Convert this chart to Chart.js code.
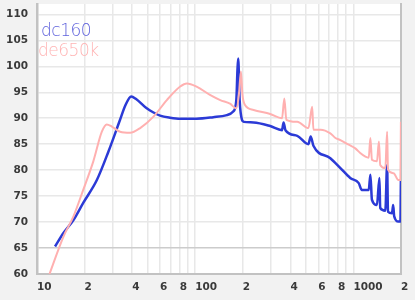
<!DOCTYPE html>
<html>
<head>
<meta charset="utf-8">
<script src="https://cdn.jsdelivr.net/npm/chart.js@4.4.1/dist/chart.umd.min.js"></script>
<style>
  body { margin: 0; background: #f2f2f2; }
  #wrap { position: relative; width: 415px; height: 300px; }
  .leyenda { position: absolute; font-family: "DejaVu Sans", sans-serif; font-weight: 200; font-size: 17px; letter-spacing: -0.5px; }
  #l1 { left: 41px; top: 20px; color: #5f62dc; }
  #l2 { left: 38px; top: 40px; color: #ffb4b4; }
</style>
</head>
<body>
<div id="wrap">
  <canvas id="grafica" width="415" height="300"></canvas>
  <div class="leyenda" id="l1">dc160</div>
  <div class="leyenda" id="l2">de650k</div>
</div>
<script>
const dcFreq = [13.0, 14.7, 17.0, 19.6, 23.9, 28.3, 33.5, 36.1, 39.4, 42.3, 49.4, 54.5, 60, 69.4, 80.4, 102, 130, 158.6, 174, 182, 185, 187, 191, 197.6, 203, 234, 298, 354, 362, 372, 442, 520, 537, 559, 715, 828, 955, 1081, 1130, 1250, 1281, 1310, 1409, 1461, 1478, 1592, 1634, 1655, 1755, 1784, 1812, 1925, 1983, 1997];
const dcLevel = [65.3, 67.9, 70.4, 73.7, 78.1, 83.6, 89.7, 92.4, 94.2, 93.7, 91.9, 91.1, 90.5, 90.1, 89.9, 89.9, 90.2, 90.6, 91.3, 93.5, 99.3, 101.5, 93.5, 89.7, 89.3, 89.2, 88.5, 87.7, 89.2, 87.7, 86.6, 85.0, 86.5, 84.7, 82.3, 80.4, 78.5, 77.5, 76.2, 76.2, 79.1, 74.3, 73.3, 78.5, 72.7, 72.2, 81.0, 72.0, 71.7, 73.3, 71.1, 70.1, 70.1, 78.1];

const deFreq = [12.0, 14.7, 17.0, 19.6, 22.7, 25.7, 27.6, 29.7, 33.5, 38.8, 44.9, 54.5, 66.2, 80.4, 88.6, 102, 124, 144, 166, 182, 188.9, 194.5, 199, 206, 234, 298, 354, 366, 377, 442, 520, 549, 559, 621, 715, 770, 828, 935, 1029, 1105, 1191, 1250, 1281, 1310, 1409, 1450, 1478, 1592, 1634, 1655, 1795, 1925, 1983, 1997];
const deLevel = [60.0, 67.2, 71.1, 76.2, 81.7, 87.4, 88.8, 88.4, 87.4, 87.2, 88.1, 90.3, 93.5, 96.1, 96.7, 96.1, 94.5, 93.5, 92.8, 91.9, 94.5, 99.0, 94.5, 92.6, 91.6, 90.8, 90.0, 93.8, 89.7, 89.3, 88.1, 92.2, 87.8, 87.8, 87.1, 86.2, 85.8, 84.9, 84.2, 83.3, 82.6, 82.4, 86.2, 82.0, 81.7, 85.5, 81.0, 80.4, 87.4, 80.1, 79.4, 78.1, 78.1, 89.3];

const xTickValues = [10, 20, 30, 40, 50, 60, 70, 80, 90, 100, 200, 300, 400, 500, 600, 700, 800, 900, 1000, 2000];
const xTickLabels = ["10", "2", "", "4", "", "6", "", "8", "", "100", "2", "", "4", "", "6", "", "8", "", "1000", "2"];
const yTickValues = [60, 65, 70, 75, 80, 85, 90, 95, 100, 105, 110];

const fuenteEjes = { family: "DejaVu Sans", size: 10.5, weight: "bold" };

// fondo blanco solo dentro del area de la grafica
const fondoArea = {
  id: "fondoArea",
  beforeDraw(chart) {
    const { ctx, chartArea } = chart;
    ctx.save();
    ctx.fillStyle = "#ffffff";
    ctx.fillRect(chartArea.left, chartArea.top, chartArea.right - chartArea.left, chartArea.bottom - chartArea.top);
    ctx.restore();
  }
};

new Chart(document.getElementById("grafica"), {
  type: "line",
  data: {
    datasets: [
      {
        label: "de650k",
        data: deFreq.map((f, i) => ({ x: f, y: deLevel[i] })),
        borderColor: "#ffb0b0",
        borderWidth: 2,
        pointRadius: 0,
        cubicInterpolationMode: "monotone"
      },
      {
        label: "dc160",
        data: dcFreq.map((f, i) => ({ x: f, y: dcLevel[i] })),
        borderColor: "#2b3ad6",
        borderWidth: 2.5,
        pointRadius: 0,
        cubicInterpolationMode: "monotone"
      }
    ]
  },
  options: {
    responsive: false,
    animation: false,
    layout: { padding: { top: 4, left: 0, right: 0, bottom: 0 } },
    plugins: {
      legend: { display: false },
      tooltip: { enabled: false }
    },
    scales: {
      x: {
        type: "logarithmic",
        min: 10,
        max: 2000,
        afterBuildTicks: scale => { scale.ticks = xTickValues.map(v => ({ value: v })); },
        afterFit: scale => {
          scale.height = 26;
          scale.paddingLeft = 0;
          scale.paddingRight = 0;
        },
        ticks: {
          autoSkip: false,
          maxRotation: 0,
          align: "start",
          padding: 7,
          color: "#3a3a3a",
          font: fuenteEjes,
          callback: (value, index) => xTickLabels[index]
        },
        grid: { color: "#e8e8e8", lineWidth: 1.5, drawTicks: false },
        border: { color: "#c2c2c2", width: 2 }
      },
      y: {
        min: 60,
        max: 112,
        afterBuildTicks: scale => { scale.ticks = yTickValues.map(v => ({ value: v })); },
        afterFit: scale => {
          scale.width = 37;
          scale.paddingTop = 0;
          scale.paddingBottom = 0;
        },
        ticks: {
          padding: 9,
          color: "#3a3a3a",
          font: fuenteEjes
        },
        grid: {
          color: ctx => (ctx.tick && ctx.tick.value === 65 ? "#cccccc" : "#e8e8e8"),
          lineWidth: 1.5,
          drawTicks: false
        },
        border: { color: "#c2c2c2", width: 2.5 }
      },
      derecha: {
        position: "right",
        afterFit: scale => {
          scale.width = 14;
          scale.paddingTop = 0;
          scale.paddingBottom = 0;
        },
        ticks: { display: false },
        grid: { drawOnChartArea: false, drawTicks: false },
        border: { color: "#c2c2c2", width: 2 }
      }
    }
  },
  plugins: [fondoArea]
});
</script>
</body>
</html>
